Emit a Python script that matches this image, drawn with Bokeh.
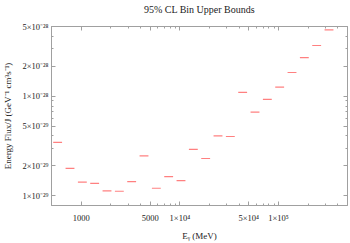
from bokeh.plotting import figure
from bokeh.models import LogAxis, FixedTicker, CustomJSTickFormatter, Range1d
from bokeh.embed import file_html
from bokeh.resources import INLINE

# bin centres (MeV), 8 log bins per decade starting at 500 MeV
energy = [577, 770, 1027, 1369, 1826, 2435, 3247, 4330, 5774, 7700,
          10268, 13693, 18260, 24350, 32470, 43300, 57740, 77000,
          102680, 136930, 182600, 243500, 324700]
upper = [3.45e-29, 1.89e-29, 1.37e-29, 1.33e-29, 1.12e-29, 1.11e-29,
         1.39e-29, 2.52e-29, 1.19e-29, 1.56e-29, 1.42e-29, 2.93e-29,
         2.37e-29, 4.01e-29, 3.95e-29, 1.10e-28, 6.93e-29, 9.35e-29,
         1.24e-28, 1.74e-28, 2.46e-28, 3.25e-28, 4.66e-28]

x_major = [1000, 5000, 10000, 50000, 100000]
x_minor = [2000, 3000, 4000, 6000, 7000, 8000, 9000,
           20000, 30000, 40000, 60000, 70000, 80000, 90000,
           200000, 300000, 400000]
x_labels = {"1000": "1000", "5000": "5000", "10000": "1×10⁴",
            "50000": "5×10⁴", "100000": "1×10⁵"}

y_major = [1e-29, 2e-29, 5e-29, 1e-28, 2e-28, 5e-28]
y_minor = [3e-29, 4e-29, 6e-29, 7e-29, 8e-29, 9e-29, 3e-28, 4e-28]
y_labels = ["1×10⁻²⁹", "2×10⁻²⁹", "5×10⁻²⁹", "1×10⁻²⁸", "2×10⁻²⁸", "5×10⁻²⁸"]

title_text = "95% CL Bin Upper Bounds"

FONT = "Liberation Serif"
FRAME = "#a0a0a0"

p = figure(width=350, height=243, x_axis_type="log", y_axis_type="log",
           x_range=Range1d(500, 500000), y_range=Range1d(7.98e-30, 5.05e-28),
           output_backend="svg", toolbar_location=None,
           min_border_left=51, min_border_right=3,
           min_border_top=26, min_border_bottom=33)

p.xgrid.visible = False
p.ygrid.visible = False
p.outline_line_color = FRAME
p.background_fill_color = "white"
p.border_fill_color = "white"

half = 10 ** 0.045
x0 = [e / half for e in energy]
x1 = [e * half for e in energy]
p.segment(x0=x0, y0=upper, x1=x1, y1=upper, line_color="#ff8080", line_width=1.2)

xfmt = CustomJSTickFormatter(args=dict(lab=x_labels), code="""
    const k = String(Math.round(tick));
    return (k in lab) ? lab[k] : "";
""")
yfmt = CustomJSTickFormatter(args=dict(vals=y_major, lab=y_labels), code="""
    for (let i = 0; i < vals.length; i++) {
        if (Math.abs(tick / vals[i] - 1) < 1e-6) return lab[i];
    }
    return "";
""")
empty = CustomJSTickFormatter(code="return '';")

def style(ax, labels=True):
    ax.axis_line_color = FRAME
    ax.major_tick_line_color = FRAME
    ax.minor_tick_line_color = FRAME
    ax.major_tick_in = 4
    ax.major_tick_out = 0
    ax.minor_tick_in = 2
    ax.minor_tick_out = 0
    ax.major_label_text_font = FONT
    ax.major_label_text_font_size = "8.5px"
    ax.major_label_text_color = "#222222"
    ax.axis_label_text_font = FONT
    ax.axis_label_text_font_size = "9px"
    ax.axis_label_text_font_style = "normal"
    ax.axis_label_text_color = "#222222"
    if not labels:
        ax.major_label_text_font_size = "0px"
        ax.major_label_standoff = 0

xax = p.xaxis[0]
xax.ticker = FixedTicker(ticks=x_major, minor_ticks=x_minor)
xax.formatter = xfmt
xax.axis_label = "E\u1d67 (MeV)"
style(xax)
xax.major_label_standoff = 7
xax.axis_label_standoff = 5

yax = p.yaxis[0]
yax.ticker = FixedTicker(ticks=y_major, minor_ticks=y_minor)
yax.formatter = yfmt
yax.axis_label = "Energy Flux/J (GeV⁻¹ cm³s⁻¹)"
style(yax)
yax.major_label_standoff = 3
yax.axis_label_standoff = 6

# top frame axis carries the chart title as its label
top = LogAxis(ticker=FixedTicker(ticks=x_major, minor_ticks=x_minor), formatter=empty)
style(top, labels=False)
top.axis_label = title_text
top.axis_label_text_font_size = "10px"
top.axis_label_standoff = 12
p.add_layout(top, "above")

right = LogAxis(ticker=FixedTicker(ticks=y_major, minor_ticks=y_minor), formatter=empty)
style(right, labels=False)
p.add_layout(right, "right")

open("out.html", "w").write(file_html(p, INLINE))
